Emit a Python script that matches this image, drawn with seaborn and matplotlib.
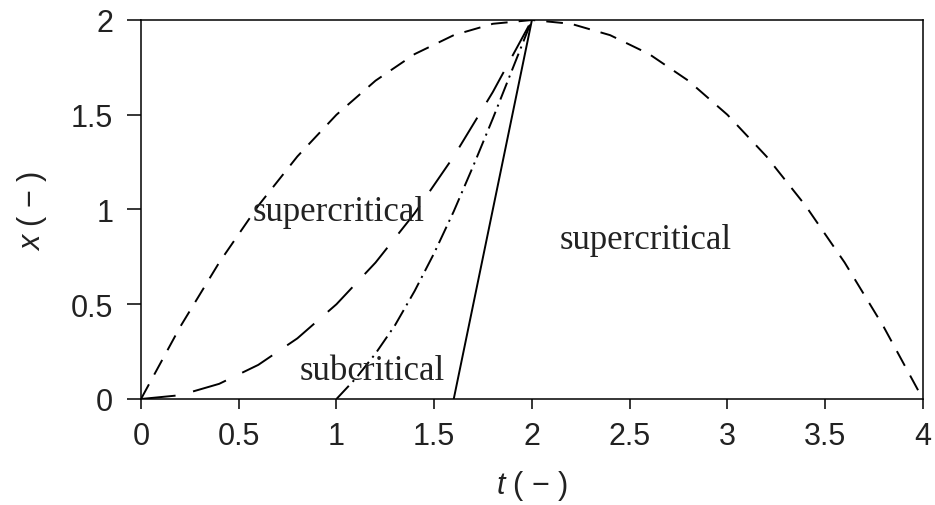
import numpy as np
import pandas as pd
import matplotlib
matplotlib.use("Agg")
import matplotlib.pyplot as plt
import seaborn as sns

# Values
t_super = [0.0, 0.2, 0.4, 0.6, 0.8, 1.0, 1.2, 1.4, 1.6, 1.8, 2.0,
           2.2, 2.4, 2.6, 2.8, 3.0, 3.2, 3.4, 3.6, 3.8, 4.0]
x_super = [0.0, 0.38, 0.72, 1.02, 1.28, 1.5, 1.68, 1.82, 1.92, 1.98, 2.0,
           1.98, 1.92, 1.82, 1.68, 1.5, 1.28, 1.02, 0.72, 0.38, 0.0]

t_long = [0.0, 0.2, 0.4, 0.6, 0.8, 1.0, 1.2, 1.4, 1.6, 1.8, 2.0]
x_long = [0.0, 0.02, 0.08, 0.18, 0.32, 0.5, 0.72, 0.98, 1.28, 1.62, 2.0]

t_dashdot = [1.0, 1.1, 1.2, 1.3, 1.4, 1.5, 1.6, 1.7, 1.8, 1.9, 2.0]
x_dashdot = [0.0, 0.11, 0.24, 0.39, 0.57, 0.77, 0.99, 1.23, 1.48, 1.74, 2.0]

t_solid = [1.6, 2.0]
x_solid = [0.0, 2.0]

labels = ["supercritical", "supercritical", "subcritical"]
label_t = [0.57, 2.14, 0.81]
label_x = [0.99, 0.84, 0.15]

x_ticks = [0, 0.5, 1, 1.5, 2, 2.5, 3, 3.5, 4]
x_ticklabels = ["0", "0.5", "1", "1.5", "2", "2.5", "3", "3.5", "4"]
y_ticks = [0, 0.5, 1, 1.5, 2]
y_ticklabels = ["0", "0.5", "1", "1.5", "2"]

sns.set_style("ticks")
plt.rcParams['font.family'] = ['Liberation Sans', 'DejaVu Sans']
plt.rcParams['mathtext.fontset'] = 'custom'
plt.rcParams['mathtext.it'] = 'Liberation Sans:italic'
plt.rcParams['mathtext.rm'] = 'Liberation Sans'
plt.rcParams['lines.scale_dashes'] = False

fig = plt.figure(figsize=(9.35, 5.06), dpi=100)
ax = fig.add_axes([0.1508, 0.2095, 0.8362, 0.749])

lw = 1.4
curves = [
    (t_super, x_super, (0, (12, 8))),
    (t_long, x_long, (0, (25, 13))),
    (t_dashdot, x_dashdot, (0, (13, 4, 1.5, 4))),
    (t_solid, x_solid, '-'),
]
for t, x, ls in curves:
    df = pd.DataFrame({'t': t, 'x': x})
    sns.lineplot(data=df, x='t', y='x', ax=ax, color='black', linewidth=lw,
                 linestyle=ls, estimator=None, sort=False)

# Region labels
for txt, tt, xx in zip(labels, label_t, label_x):
    ax.text(tt, xx, txt, fontsize=25, family=['Liberation Serif', 'DejaVu Serif'],
            ha='left', va='center', color='#222222')

ax.set_xlim(0, 4)
ax.set_ylim(0, 2)
ax.set_xticks(x_ticks)
ax.set_xticklabels(x_ticklabels)
ax.set_yticks(y_ticks)
ax.set_yticklabels(y_ticklabels)
ax.tick_params(axis='both', labelsize=22, width=1.1, color='black', labelcolor='#222222')
ax.tick_params(axis='x', length=7, pad=9)
ax.tick_params(axis='y', length=10, pad=10)
for sp in ax.spines.values():
    sp.set_visible(True)
    sp.set_linewidth(1.1)
    sp.set_color('black')

ax.set_xlabel(r"$t$ ( − )", fontsize=22, labelpad=12, color='#222222')
ax.set_ylabel(r"$x$ ( − )", fontsize=22, labelpad=16, color='#222222')

fig.savefig("out.png", dpi=100)
